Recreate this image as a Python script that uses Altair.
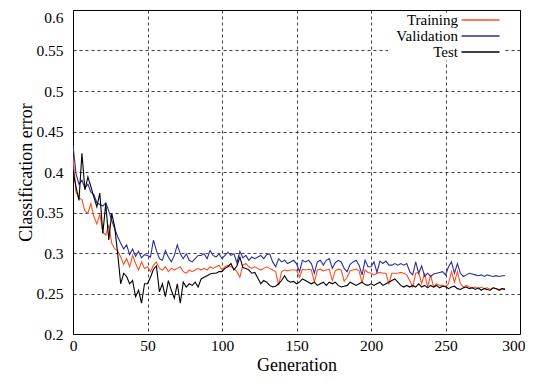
import altair as alt
import pandas as pd

generations = list(range(0, 292, 2))

training = [
    0.419, 0.375, 0.368, 0.366, 0.352, 0.349, 0.361, 0.345, 0.336, 0.348,
    0.326, 0.322, 0.335, 0.312, 0.305, 0.303, 0.295, 0.286, 0.293, 0.283,
    0.297, 0.287, 0.279, 0.289, 0.281,
    0.283, 0.277, 0.285, 0.289, 0.281, 0.279, 0.283, 0.277, 0.281, 0.279,
    0.281, 0.283, 0.277, 0.275, 0.279, 0.277, 0.279, 0.281, 0.279, 0.281,
    0.279, 0.283, 0.281, 0.283, 0.285,
    0.279, 0.283, 0.285, 0.283, 0.281, 0.277, 0.270, 0.285, 0.287, 0.283,
    0.281, 0.283, 0.281, 0.279, 0.281, 0.283, 0.281, 0.279, 0.277, 0.260,
    0.277, 0.279, 0.278, 0.279, 0.279,
    0.279, 0.270, 0.280, 0.279, 0.280, 0.279, 0.264, 0.279, 0.280, 0.278,
    0.279, 0.280, 0.266, 0.278, 0.280, 0.279, 0.265, 0.270, 0.278, 0.279,
    0.280, 0.278, 0.263, 0.279, 0.276,
    0.275, 0.273, 0.275, 0.276, 0.275, 0.275, 0.262, 0.275, 0.275, 0.275,
    0.276, 0.275, 0.273, 0.266, 0.258, 0.275, 0.276, 0.262, 0.275, 0.258,
    0.273, 0.258, 0.262, 0.260, 0.260,
    0.258, 0.262, 0.277, 0.264, 0.277, 0.262, 0.258, 0.260, 0.258, 0.257,
    0.258, 0.256, 0.258, 0.256, 0.257, 0.255, 0.257, 0.256, 0.255, 0.256,
    0.256,
]

validation = [
    0.433, 0.398, 0.385, 0.390, 0.380, 0.385, 0.375, 0.372, 0.362, 0.360,
    0.358, 0.362, 0.352, 0.340, 0.330, 0.320, 0.312, 0.305, 0.310, 0.298,
    0.305, 0.296, 0.302, 0.294, 0.298,
    0.297, 0.295, 0.316, 0.303, 0.293, 0.291, 0.303, 0.295, 0.289, 0.297,
    0.310, 0.299, 0.293, 0.299, 0.291, 0.289, 0.293, 0.297, 0.297, 0.299,
    0.293, 0.303, 0.297, 0.295, 0.299,
    0.293, 0.297, 0.301, 0.297, 0.299, 0.288, 0.302, 0.294, 0.297, 0.291,
    0.295, 0.293, 0.295, 0.297, 0.293, 0.298, 0.299, 0.289, 0.283, 0.293,
    0.289, 0.291, 0.287, 0.289, 0.291,
    0.287, 0.277, 0.291, 0.289, 0.291, 0.287, 0.275, 0.289, 0.291, 0.285,
    0.291, 0.293, 0.281, 0.288, 0.291, 0.289, 0.281, 0.277, 0.286, 0.289,
    0.291, 0.285, 0.273, 0.291, 0.283,
    0.283, 0.289, 0.276, 0.290, 0.287, 0.290, 0.285, 0.285, 0.287, 0.285,
    0.287, 0.285, 0.287, 0.277, 0.273, 0.289, 0.275, 0.284, 0.271, 0.275,
    0.271, 0.274, 0.275, 0.276, 0.277,
    0.273, 0.283, 0.289, 0.275, 0.287, 0.275, 0.271, 0.273, 0.275, 0.274,
    0.273, 0.272, 0.273, 0.271, 0.273, 0.272, 0.271, 0.272, 0.271, 0.272,
    0.272,
]

test = [
    0.402, 0.382, 0.365, 0.423, 0.378, 0.394, 0.382, 0.369, 0.357, 0.374,
    0.324, 0.361, 0.316, 0.349, 0.332, 0.299, 0.262, 0.275, 0.271, 0.262,
    0.266, 0.246, 0.254, 0.238, 0.262,
    0.262, 0.270, 0.280, 0.284, 0.252, 0.262, 0.246, 0.266, 0.254, 0.244,
    0.262, 0.238, 0.264, 0.258, 0.262, 0.260, 0.264, 0.258, 0.268, 0.270,
    0.272, 0.274, 0.275, 0.275, 0.277,
    0.277, 0.281, 0.283, 0.287, 0.279, 0.284, 0.295, 0.282, 0.281, 0.279,
    0.275, 0.276, 0.269, 0.262, 0.266, 0.264, 0.260, 0.258, 0.259, 0.262,
    0.266, 0.272, 0.266, 0.264, 0.265,
    0.262, 0.264, 0.268, 0.266, 0.264, 0.262, 0.264, 0.260, 0.262, 0.264,
    0.260, 0.264, 0.262, 0.264, 0.260, 0.258, 0.259, 0.260, 0.264, 0.262,
    0.260, 0.262, 0.264, 0.261, 0.260,
    0.262, 0.260, 0.262, 0.264, 0.260, 0.262, 0.264, 0.266, 0.268, 0.264,
    0.260, 0.258, 0.260, 0.258, 0.260, 0.258, 0.262, 0.258, 0.260, 0.257,
    0.260, 0.258, 0.260, 0.257, 0.259,
    0.259, 0.256, 0.258, 0.259, 0.256, 0.255, 0.257, 0.258, 0.256, 0.257,
    0.255, 0.257, 0.254, 0.256, 0.255, 0.254, 0.257, 0.256, 0.254, 0.256,
    0.255,
]

series_names = ["Training", "Validation", "Test"]
series_colors = ["#ff4f1f", "#2a2d9c", "#000000"]

x_ticks = [0, 50, 100, 150, 200, 250, 300]
y_ticks = [0.2, 0.25, 0.3, 0.35, 0.4, 0.45, 0.5, 0.55, 0.6]

rows = []
for name, vals in zip(series_names, [training, validation, test]):
    for g, v in zip(generations, vals):
        rows.append({"Generation": g, "error": v, "series": name})
df = pd.DataFrame(rows)

FONT = "Liberation Serif"

top_test = "datum.value >= 0.59"
right_test = "datum.value >= 299"

chart = alt.Chart(df).mark_line(strokeWidth=1.1, clip=True).encode(
    x=alt.X(
        "Generation:Q",
        scale=alt.Scale(domain=[0, 300], nice=False),
        axis=alt.Axis(
            values=x_ticks, title="Generation", labelPadding=4,
            titlePadding=3, labelFlush=False,
            labelFont=FONT, labelFontSize=15.5, labelColor="black",
            labelAlign={"condition": {"test": right_test, "value": "right"},
                        "value": "center"},
            labelOffset={"condition": {"test": right_test, "value": 5},
                         "value": 0},
        ),
    ),
    y=alt.Y(
        "error:Q",
        scale=alt.Scale(domain=[0.2, 0.6], nice=False, zero=False),
        axis=alt.Axis(
            values=y_ticks, title="Classification error", format="~g",
            labelPadding=10, titlePadding=0, labelFlush=False,
            labelFont=FONT, labelFontSize=15.5, labelColor="black",
            labelBaseline={"condition": {"test": top_test, "value": "top"},
                           "value": "middle"},
        ),
    ),
    color=alt.Color(
        "series:N",
        sort=series_names,
        scale=alt.Scale(domain=series_names, range=series_colors),
        legend=alt.Legend(
            orient="none", legendX=315, legendY=2.5, title=None,
            symbolType="M13.2,0H20.8", symbolSize=100, symbolStrokeWidth=1.5,
            symbolOffset=0,
            labelAlign="right", labelOffset=55,
            labelFont=FONT, labelFontSize=15, labelColor="black",
            rowPadding=-3, padding=0, fillColor="white",
        ),
    ),
).properties(
    width=447,
    height=324,
    autosize=alt.AutoSizeParams(type="none"),
    padding={"left": 65, "top": 2, "right": 5, "bottom": 43},
).configure_view(
    stroke="black", strokeWidth=1
).configure_axis(
    grid=True, gridColor="black", gridDash=[3, 3], gridOpacity=0.75, gridWidth=1,
    domain=False, ticks=False,
    labelFont=FONT, labelFontSize=15.5, labelColor="black",
    titleFont=FONT, titleFontSize=18, titleFontWeight="normal", titleColor="black",
)

chart.save("out.html", embed_options={"renderer": "svg", "actions": False})
